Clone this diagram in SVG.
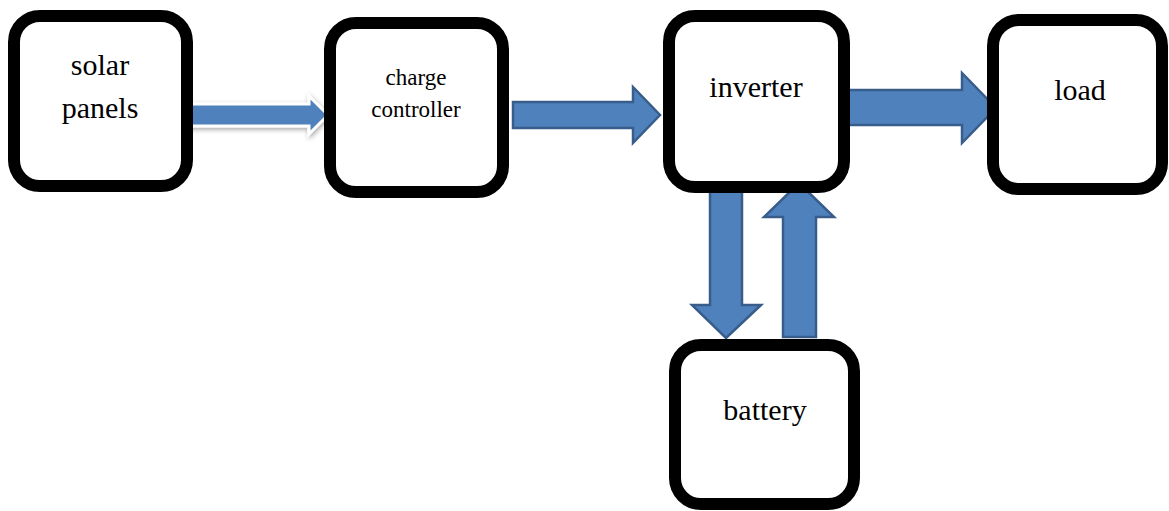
<svg xmlns="http://www.w3.org/2000/svg" width="1169" height="511" viewBox="0 0 1169 511">
<style>
.box{fill:#fff;stroke:#000;stroke-width:12}
.lbl{font-family:"Liberation Serif","Times New Roman",serif;font-size:30px;fill:#000;text-anchor:middle}
.small{font-size:23px}
.arr{fill:#4F81BD;stroke:#385D8A;stroke-width:2.5;stroke-linejoin:miter}
.arrw{fill:#4F81BD;stroke:#fff;stroke-width:3;stroke-linejoin:miter}
</style>
<defs>
<filter id="sh" x="-20%" y="-50%" width="140%" height="200%">
<feDropShadow dx="1" dy="2" stdDeviation="2.5" flood-color="#000" flood-opacity="0.35"/>
</filter>
</defs>
<rect width="1169" height="511" fill="#fff"/>
<g id="connectors">
<polygon class="arrw" filter="url(#sh)" points="188,104 309,104 309,96 328,115 309,134 309,126 188,126"/>
<polygon class="arr" points="513,102 633,102 633,87 660,115 633,143 633,128 513,128"/>
<polygon class="arr" points="842,90 962,90 962,73 996,108 962,143 962,125 842,125"/>
<polygon class="arr" points="710,185 742,185 742,305 761,305 726,338 692,305 710,305"/>
<polygon class="arr" points="783,337 816,337 816,217 834,217 799,183 764,217 783,217"/>
</g>
<g id="node-solar">
<rect class="box" x="14" y="16" width="173" height="170" rx="26"/>
<text class="lbl" x="100" y="75">solar</text>
<text class="lbl" x="100" y="118">panels</text>
</g>
<g id="node-charge">
<rect class="box" x="330" y="23" width="173" height="169" rx="26"/>
<text class="lbl small" x="416" y="85">charge</text>
<text class="lbl small" x="416" y="117">controller</text>
</g>
<g id="node-inverter">
<rect class="box" x="669" y="16" width="175" height="171" rx="26"/>
<text class="lbl" x="756" y="97">inverter</text>
</g>
<g id="node-load">
<rect class="box" x="993" y="20" width="169" height="169" rx="26"/>
<text class="lbl" x="1080" y="100">load</text>
</g>
<g id="node-battery">
<rect class="box" x="675" y="345" width="179" height="159" rx="26"/>
<text class="lbl" x="765" y="420">battery</text>
</g>
</svg>
